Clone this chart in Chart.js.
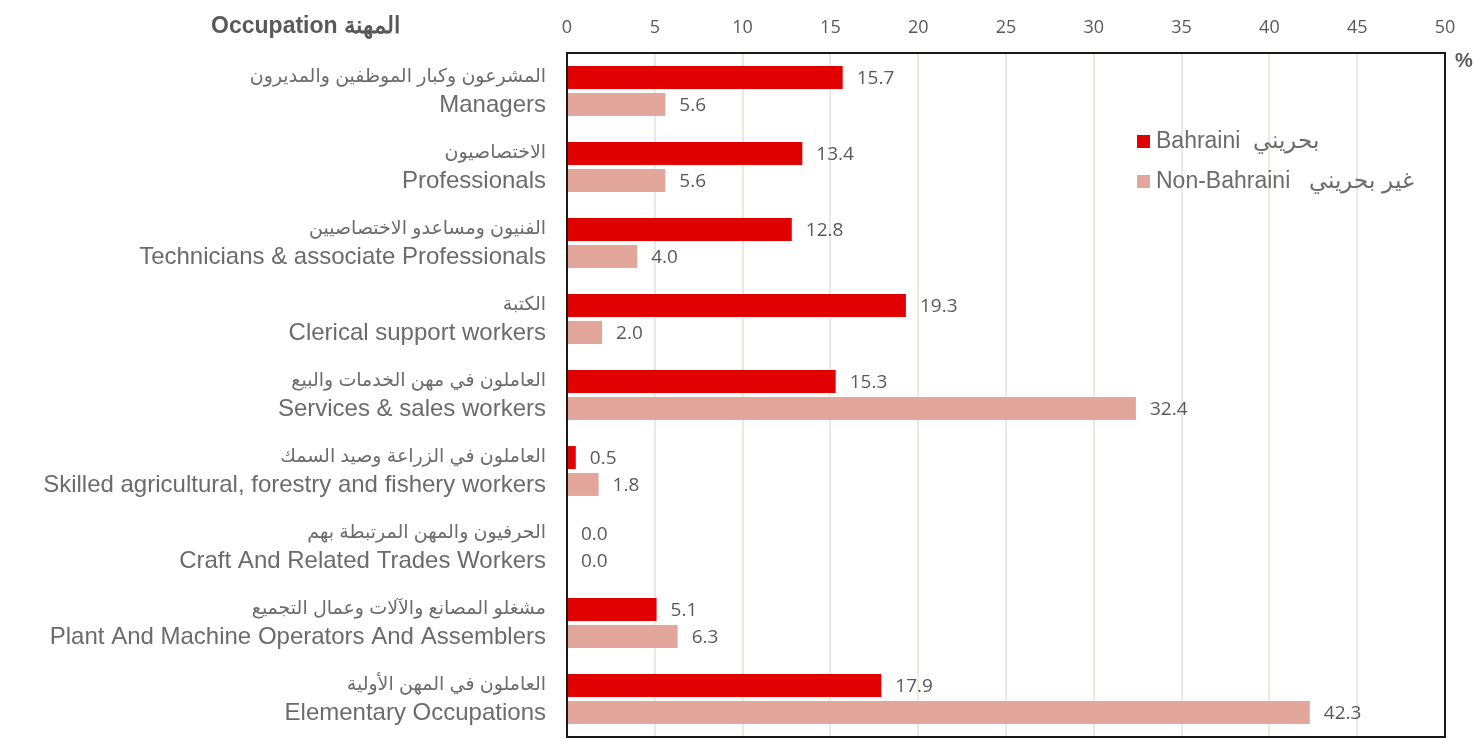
<!DOCTYPE html>
<html>
<head>
<meta charset="utf-8">
<script src="https://cdn.jsdelivr.net/npm/chart.js@4/dist/chart.umd.min.js"></script>
<style>
  html, body { margin: 0; padding: 0; background: #fff; }
  #wrap { width: 1475px; height: 739px; }
</style>
</head>
<body>
<div id="wrap"><canvas id="chart"></canvas></div>
<script>
// data
const labelsAr = [
    "المشرعون وكبار الموظفين والمديرون",
    "الاختصاصيون",
    "الفنيون ومساعدو الاختصاصيين",
    "الكتبة",
    "العاملون في مهن الخدمات والبيع",
    "العاملون في الزراعة وصيد السمك",
    "الحرفيون والمهن المرتبطة بهم",
    "مشغلو المصانع والآلات وعمال التجميع",
    "العاملون في المهن الأولية"
];
const labelsEn = [
    "Managers",
    "Professionals",
    "Technicians & associate Professionals",
    "Clerical support workers",
    "Services & sales workers",
    "Skilled agricultural, forestry and fishery workers",
    "Craft And Related Trades Workers",
    "Plant And Machine Operators And Assemblers",
    "Elementary Occupations"
];
const bahraini = [15.7, 13.4, 12.8, 19.3, 15.3, 0.5, 0.0, 5.1, 17.9];
const nonBahraini = [5.6, 5.6, 4.0, 2.0, 32.4, 1.8, 0.0, 6.3, 42.3];
const seriesNames = ["Bahraini  بحريني", "Non-Bahraini   غير بحريني"];
const xMax = 50;
const xStep = 5;

const gray = "#595959";
const labelGray = "#6b6b6b";

const extras = {
    id: "extras",
    afterDraw(chart) {
        const ctx = chart.ctx;
        const area = chart.chartArea;
        const y = chart.scales.y;
        ctx.save();

        // frame
        ctx.strokeStyle = "#1a1a1a";
        ctx.lineWidth = 2;
        ctx.strokeRect(area.left, area.top, area.right - area.left, area.bottom - area.top);

        // category labels, two lines each
        ctx.fillStyle = labelGray;
        ctx.textAlign = "right";
        ctx.textBaseline = "middle";
        labelsEn.forEach((en, i) => {
            const cy = y.getPixelForValue(i);
            ctx.font = "19px 'Liberation Sans', 'DejaVu Sans', sans-serif";
            ctx.fillText(labelsAr[i], 546, cy - 14);
            ctx.font = "24px 'Liberation Sans', Arial, sans-serif";
            ctx.fillText(en, 546, cy + 14);
        });

        // value labels
        ctx.textAlign = "left";
        ctx.fillStyle = gray;
        ctx.font = "19px 'Open Sans', sans-serif";
        chart.data.datasets.forEach((ds, di) => {
            chart.getDatasetMeta(di).data.forEach((bar, i) => {
                ctx.fillText(ds.data[i].toFixed(1), bar.x + 14, bar.y + 1);
            });
        });

        // legend inside plot
        ctx.font = "23px 'Liberation Sans', Arial, sans-serif";
        chart.data.datasets.forEach((ds, di) => {
            const ly = 141 + di * 40;
            ctx.fillStyle = ds.backgroundColor;
            ctx.fillRect(1137, ly - 6, 13, 13);
            ctx.fillStyle = labelGray;
            ctx.fillText(ds.label, 1156, ly + 1);
        });

        // axis title and unit
        ctx.fillStyle = gray;
        ctx.font = "bold 23px 'Liberation Sans', Arial, sans-serif";
        ctx.direction = "rtl";
        ctx.textAlign = "right";
        ctx.fillText("المهنة Occupation", 400, 27);
        ctx.direction = "ltr";
        ctx.textAlign = "center";
        ctx.font = "bold 20px 'Liberation Sans', Arial, sans-serif";
        ctx.fillText("%", 1464, 61);
        ctx.restore();
    }
};

new Chart(document.getElementById("chart"), {
    type: "bar",
    data: {
        labels: labelsEn,
        datasets: [
            { label: seriesNames[0], data: bahraini, backgroundColor: "#e00000" },
            { label: seriesNames[1], data: nonBahraini, backgroundColor: "#e2a69b" }
        ]
    },
    options: {
        indexAxis: "y",
        responsive: true,
        maintainAspectRatio: false,
        animation: false,
        layout: { padding: { left: 567, right: 30, top: 0, bottom: 2 } },
        datasets: { bar: { categoryPercentage: 0.71, barPercentage: 0.85 } },
        plugins: { legend: { display: false }, tooltip: { enabled: false } },
        scales: {
            x: {
                position: "top",
                min: 0,
                max: xMax,
                ticks: { stepSize: xStep, color: gray, font: { family: "'Open Sans', sans-serif", size: 18 }, padding: 14 },
                grid: { color: "#ece9dd", lineWidth: 2, drawTicks: false },
                border: { display: false },
                afterFit(s) { s.height = 53; }
            },
            y: {
                display: false
            }
        }
    },
    plugins: [extras]
});
</script>
</body>
</html>
